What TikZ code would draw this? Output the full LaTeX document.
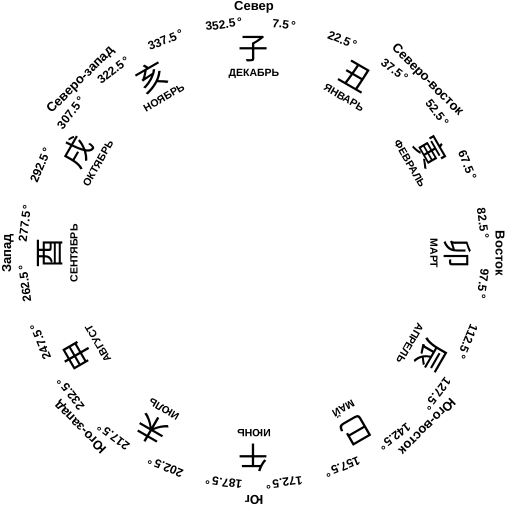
\documentclass[tikz,border=0pt]{standalone}
\usepackage{fontspec}
\setmainfont{Liberation Sans}
\newfontfamily\cjk{Noto Sans CJK SC}

\begin{document}
\begin{tikzpicture}[x=1pt,y=1pt,
  branch/.style={inner sep=0pt,font=\cjk\fontsize{30}{30}\selectfont},
  month/.style={inner sep=0pt,font=\bfseries\fontsize{10.5}{10.5}\selectfont},
  degree/.style={inner sep=0pt,font=\bfseries\fontsize{12}{12}\selectfont},
  side/.style={inner sep=0pt,font=\bfseries\fontsize{13}{13}\selectfont}]
\useasboundingbox (-254,-253.5) rectangle (253,253.5);
% branches
\node[branch,rotate=0] (c1) at (90:204) {子};
\node[branch,rotate=-30] (c2) at (60:204) {丑};
\node[branch,rotate=-60] (c3) at (30:204) {寅};
\node[branch,rotate=-90] (c4) at (0:204) {卯};
\node[branch,rotate=-120] (c5) at (-30:204) {辰};
\node[branch,rotate=-150] (c6) at (-60:204) {巳};
\node[branch,rotate=-180] (c7) at (-90:204) {午};
\node[branch,rotate=-210] (c8) at (-120:204) {未};
\node[branch,rotate=-240] (c9) at (-150:204) {申};
\node[branch,rotate=-270] (c10) at (-180:204) {酉};
\node[branch,rotate=-300] (c11) at (-210:204) {戌};
\node[branch,rotate=-330] (c12) at (-240:204) {亥};
% months
\node[month,rotate=0] (m1) at (90:180) {ДЕКАБРЬ};
\node[month,rotate=-30] (m2) at (60:180) {ЯНВАРЬ};
\node[month,rotate=-60] (m3) at (30:180) {ФЕВРАЛЬ};
\node[month,rotate=-90] (m4) at (0:180) {МАРТ};
\node[month,rotate=-120] (m5) at (-30:180) {АПРЕЛЬ};
\node[month,rotate=-150] (m6) at (-60:180) {МАЙ};
\node[month,rotate=-180] (m7) at (-90:180) {ИЮНЬ};
\node[month,rotate=-210] (m8) at (-120:180) {ИЮЛЬ};
\node[month,rotate=-240] (m9) at (-150:180) {АВГУСТ};
\node[month,rotate=-270] (m10) at (-180:180) {СЕНТЯБРЬ};
\node[month,rotate=-300] (m11) at (-210:180) {ОКТЯБРЬ};
\node[month,rotate=-330] (m12) at (-240:180) {НОЯБРЬ};
% degrees
\node[degree,rotate=-7.5] (g1) at (82.5:231) {7.5\,°};
\node[degree,rotate=-22.5] (g2) at (67.5:231) {22.5\,°};
\node[degree,rotate=-37.5] (g3) at (52.5:231) {37.5\,°};
\node[degree,rotate=-52.5] (g4) at (37.5:231) {52.5\,°};
\node[degree,rotate=-67.5] (g5) at (22.5:231) {67.5\,°};
\node[degree,rotate=-82.5] (g6) at (7.5:231) {82.5\,°};
\node[degree,rotate=-97.5] (g7) at (-7.5:231) {97.5\,°};
\node[degree,rotate=-112.5] (g8) at (-22.5:231) {112.5\,°};
\node[degree,rotate=-127.5] (g9) at (-37.5:231) {127.5\,°};
\node[degree,rotate=-142.5] (g10) at (-52.5:231) {142.5\,°};
\node[degree,rotate=-157.5] (g11) at (-67.5:231) {157.5\,°};
\node[degree,rotate=-172.5] (g12) at (-82.5:231) {172.5\,°};
\node[degree,rotate=-187.5] (g13) at (-97.5:231) {187.5\,°};
\node[degree,rotate=-202.5] (g14) at (-112.5:231) {202.5\,°};
\node[degree,rotate=-217.5] (g15) at (-127.5:231) {217.5\,°};
\node[degree,rotate=-232.5] (g16) at (-142.5:231) {232.5\,°};
\node[degree,rotate=-247.5] (g17) at (-157.5:231) {247.5\,°};
\node[degree,rotate=-262.5] (g18) at (-172.5:231) {262.5\,°};
\node[degree,rotate=-277.5] (g19) at (-187.5:231) {277.5\,°};
\node[degree,rotate=-292.5] (g20) at (-202.5:231) {292.5\,°};
\node[degree,rotate=-307.5] (g21) at (-217.5:231) {307.5\,°};
\node[degree,rotate=-322.5] (g22) at (-232.5:231) {322.5\,°};
\node[degree,rotate=-337.5] (g23) at (-247.5:231) {337.5\,°};
\node[degree,rotate=-352.5] (g24) at (-262.5:231) {352.5\,°};
% sides of the world
\node[side,rotate=0] (w1) at (90:246) {Север};
\node[side,rotate=-45] (w2) at (45:245) {Северо-восток};
\node[side,rotate=-90] (w3) at (0:246) {Восток};
\node[side,rotate=-135] (w4) at (-45:245) {Юго-восток};
\node[side,rotate=-180] (w5) at (-90:246) {Юг};
\node[side,rotate=-225] (w6) at (-135:245) {Юго-запад};
\node[side,rotate=-270] (w7) at (180:246) {Запад};
\node[side,rotate=-315] (w8) at (135:245) {Северо-запад};
\end{tikzpicture}
\end{document}
